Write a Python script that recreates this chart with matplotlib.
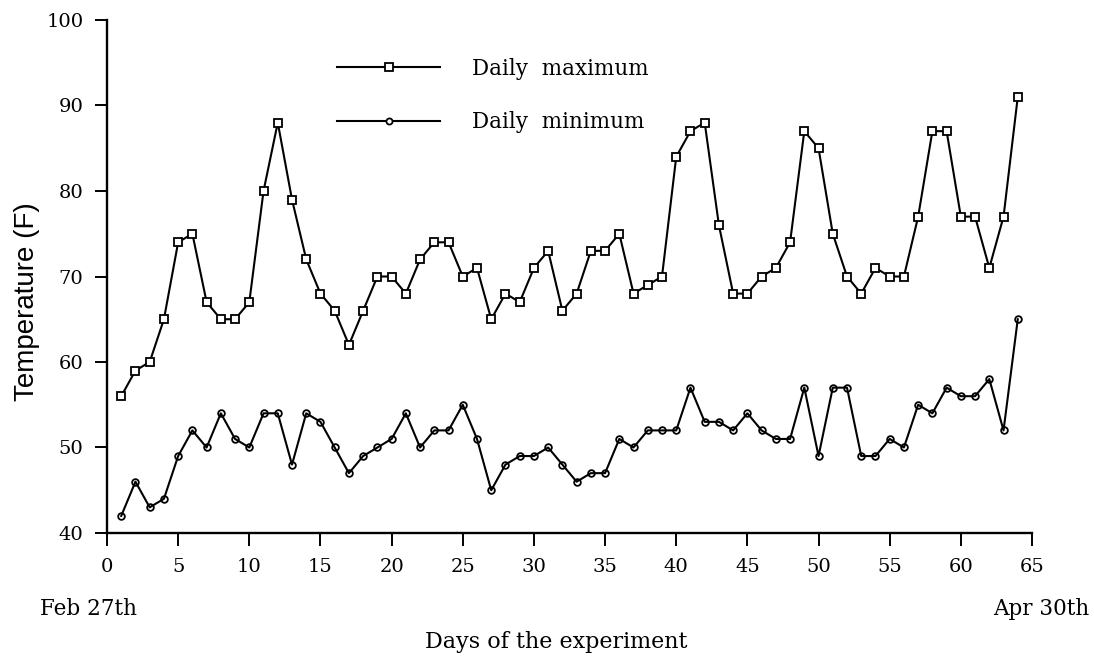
import matplotlib
matplotlib.use("Agg")
import matplotlib.pyplot as plt
from matplotlib.lines import Line2D

# Daily temperatures recorded over the experiment (days 1-64)
days = list(range(1, 65))
daily_max = [56, 59, 60, 65, 74, 75, 67, 65, 65, 67, 80, 88, 79, 72, 68, 66,
             62, 66, 70, 70, 68, 72, 74, 74, 70, 71, 65, 68, 67, 71, 73, 66,
             68, 73, 73, 75, 68, 69, 70, 84, 87, 88, 76, 68, 68, 70, 71, 74,
             87, 85, 75, 70, 68, 71, 70, 70, 77, 87, 87, 77, 77, 71, 77, 91]
daily_min = [42, 46, 43, 44, 49, 52, 50, 54, 51, 50, 54, 54, 48, 54, 53, 50,
             47, 49, 50, 51, 54, 50, 52, 52, 55, 51, 45, 48, 49, 49, 50, 48,
             46, 47, 47, 51, 50, 52, 52, 52, 57, 53, 53, 52, 54, 52, 51, 51,
             57, 49, 57, 57, 49, 49, 51, 50, 55, 54, 57, 56, 56, 58, 52, 65]
x_ticks = list(range(0, 66, 5))
y_ticks = list(range(40, 101, 10))
series_labels = ["Daily  maximum", "Daily  minimum"]
start_label, end_label = "Feb 27th", "Apr 30th"

SERIF = "DejaVu Serif"
SANS = "Liberation Sans"

fig = plt.figure(figsize=(10.94, 6.56), dpi=100)
ax = fig.add_axes([107 / 1094, 1 - 533 / 656, (1032 - 107) / 1094, (533 - 20) / 656])

lw = 1.5
# maximum: open squares covering the line
ax.plot(days, daily_max, color="black", lw=lw, marker="s", markersize=5.3,
        markerfacecolor="white", markeredgecolor="black", markeredgewidth=1.3,
        zorder=3)
# minimum: open circles with the line drawn through them
ax.plot(days, daily_min, linestyle="none", marker="o", markersize=4.8,
        markerfacecolor="white", markeredgecolor="black", markeredgewidth=1.3,
        zorder=3)
ax.plot(days, daily_min, color="black", lw=lw, zorder=4)

ax.set_xlim(0, 65)
ax.set_ylim(40, 100)
ax.set_xticks(x_ticks)
ax.set_yticks(y_ticks)
for side in ("top", "right"):
    ax.spines[side].set_visible(False)
for side in ("left", "bottom"):
    ax.spines[side].set_linewidth(1.7)
ax.tick_params(axis="x", direction="out", length=9, width=1.4, pad=9,
               labelsize=14)
ax.tick_params(axis="y", direction="out", length=9, width=1.4, pad=8,
               labelsize=14)
for lab in ax.get_xticklabels() + ax.get_yticklabels():
    lab.set_fontfamily(SERIF)

handles = [
    Line2D([], [], color="black", lw=lw, marker="s", markersize=5.3,
           markerfacecolor="white", markeredgecolor="black", markeredgewidth=1.3),
    Line2D([], [], color="black", lw=lw, marker="o", markersize=4.4,
           markerfacecolor="white", markeredgecolor="black", markeredgewidth=1.3),
]
fig.legend(handles, series_labels, loc="center left",
           bbox_to_anchor=(337 / 1094, 1 - 95.5 / 656), frameon=False,
           numpoints=1, handlelength=4.8, handletextpad=1.45,
           labelspacing=1.48, borderpad=0, borderaxespad=0,
           prop={"family": SERIF, "size": 15.5})

fig.text(40 / 1094, 1 - 609 / 656, start_label, ha="left", va="center",
         family=SERIF, fontsize=15.5)
fig.text(1089 / 1094, 1 - 609 / 656, end_label, ha="right", va="center",
         family=SERIF, fontsize=15.5)
fig.text(556 / 1094, 1 - 642 / 656, "Days of the experiment", ha="center",
         va="center", family=SERIF, fontsize=16)
fig.text(27 / 1094, 1 - 302 / 656, "Temperature (F)", ha="center",
         va="center", rotation=90, family=SANS, fontsize=20)

fig.savefig("out.png", dpi=100, facecolor="white")
